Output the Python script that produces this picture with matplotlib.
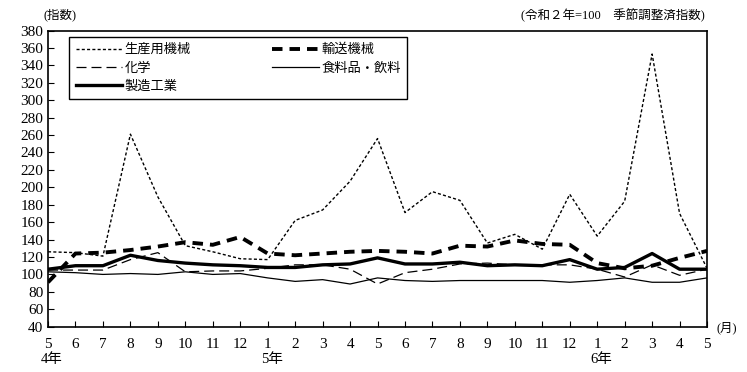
import matplotlib.pyplot as plt
import matplotlib.transforms as mtransforms

plt.rcParams['font.family'] = ['Liberation Serif', 'Noto Sans CJK JP']

# months from 令和4年5月 to 令和6年5月
months = [5, 6, 7, 8, 9, 10, 11, 12, 1, 2, 3, 4, 5, 6, 7, 8, 9, 10, 11, 12, 1, 2, 3, 4, 5]
year_labels = {0: '4年', 8: '5年', 20: '6年'}

seisan = [126, 125, 121, 261, 189, 133, 126, 118, 117, 162, 174, 207, 256,
          171, 195, 185, 136, 146, 129, 192, 144, 184, 353, 170, 107]
yuso = [91, 124, 125, 128, 132, 137, 134, 143, 124, 122, 124, 126, 127,
        126, 124, 133, 132, 139, 135, 134, 113, 107, 110, 119, 127]
kagaku = [105, 105, 105, 117, 125, 103, 104, 104, 107, 111, 111, 106, 89,
          102, 106, 112, 113, 111, 111, 111, 106, 97, 111, 99, 106]
shokuryo = [103, 102, 100, 101, 100, 103, 100, 101, 96, 92, 94, 89, 96,
            93, 92, 93, 93, 93, 93, 91, 93, 96, 91, 91, 96]
seizo = [106, 110, 110, 122, 116, 113, 111, 110, 108, 108, 111, 112, 119,
         112, 112, 114, 110, 111, 110, 117, 106, 108, 124, 106, 106]

x = list(range(len(months)))

fig = plt.figure(figsize=(7.47, 3.72), dpi=100)
ax = fig.add_axes([0.0643, 0.1218, 0.8822, 0.7962])

l1, = ax.plot(x, seisan, color='black', lw=1.0, linestyle=(0, (2.2, 1.6)), label='生産用機械')
l2, = ax.plot(x, yuso, color='black', lw=2.8, linestyle=(0, (2.7, 1.8)), label='輸送機械')
l3, = ax.plot(x, kagaku, color='black', lw=0.9, linestyle=(0, (8, 4)), label='化学')
l4, = ax.plot(x, shokuryo, color='black', lw=0.9, label='食料品・飲料')
l5, = ax.plot(x, seizo, color='black', lw=2.4, label='製造工業')

ax.set_xlim(0, 24)
ax.set_ylim(40, 380)
ax.set_yticks(range(40, 381, 20))
ax.set_xticks(x)
ax.set_xticklabels([str(m) for m in months])
ax.tick_params(direction='in', length=4, width=0.8, labelsize=11, colors='black')
ax.tick_params(axis='x', pad=8)
for s in ax.spines.values():
    s.set_linewidth(1.2)

trans = mtransforms.blended_transform_factory(ax.transData, fig.transFigure)
for i, lab in year_labels.items():
    ax.text(i + 0.15, 1 - 359 / 372, lab, transform=trans, ha='center', va='center', fontsize=10.5)

fig.text(727 / 747, 1 - 328 / 372, '(月)', ha='center', va='center', fontsize=9)
fig.text(60 / 747, 1 - 15 / 372, '(指数)', ha='center', va='center', fontsize=9)
fig.text(705 / 747, 1 - 15 / 372, '(令和２年=100　季節調整済指数)', ha='right', va='center', fontsize=9)

# column-major order so rows read: 生産用機械/輸送機械, 化学/食料品・飲料, 製造工業
handles = [l1, l3, l5, l2, l4]
leg = ax.legend(handles, [h.get_label() for h in handles], ncol=2, loc='upper left',
                bbox_to_anchor=(69 / 747, 1 - 37 / 372),
                bbox_transform=fig.transFigure, fontsize=9.5, frameon=True,
                fancybox=False, edgecolor='black', handlelength=3.5,
                handletextpad=0.2, columnspacing=6.2, labelspacing=0.45,
                borderpad=0.5, borderaxespad=0)
leg.get_frame().set_linewidth(1.0)
leg.get_frame().set_alpha(1)

fig.savefig('out.png', dpi=100)
